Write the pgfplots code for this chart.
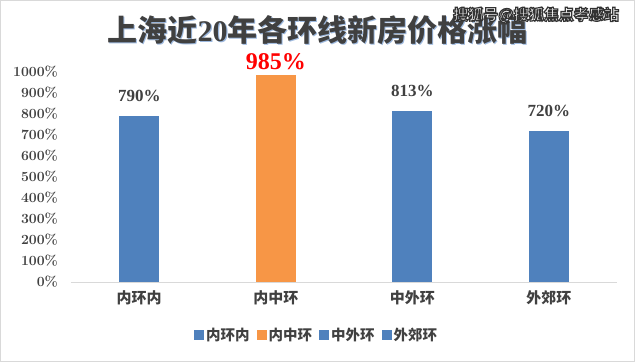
\documentclass[border=0pt]{standalone}
\usepackage{fontspec}
\usepackage{pgfplots}
\pgfplotsset{compat=1.18}
\newfontfamily\cjk{Noto Sans CJK SC}
\newfontfamily\tnr{Liberation Serif}
\definecolor{barblue}{HTML}{4F81BD}
\definecolor{barorange}{HTML}{F79646}
\definecolor{txt}{HTML}{404040}
\definecolor{gridc}{HTML}{D9D9D9}
\definecolor{shadowc}{HTML}{9DB9DF}
\newcommand{\titletext}{{\cjk\bfseries 上海近}{\tnr\bfseries 20}{\cjk\bfseries 年各环线新房价格涨幅}}
\newcommand{\wm}{{\cjk\bfseries 搜狐号@搜狐焦点孝感站}}
\begin{document}
\begin{tikzpicture}[x=1pt,y=1pt]
\fill[white] (0,0) rectangle (635,362);
\draw[gridc] (0.5,0.5) rectangle (634.5,361.5);
% title with shadow
\node[text=shadowc, font=\fontsize{30}{30}\selectfont, inner sep=0pt] at (318.8,330.8) {\titletext};
\node[text=txt, font=\fontsize{30}{30}\selectfont, inner sep=0pt] at (317.5,332) {\titletext};
% watermark (white text with dark outline via text render mode)
\node[text=white, font=\fontsize{15}{15}\selectfont, inner sep=0pt] at (536,347)
  {\special{pdf:literal direct 2 Tr 0.2 G 1.2 w}\wm\special{pdf:literal direct 0 Tr 0 G 1 w}};
\node[text=white, font=\fontsize{15}{15}\selectfont, inner sep=0pt, opacity=0] at (536,347) {};
\begin{axis}[
  at={(71pt,80pt)}, anchor=south west, scale only axis,
  width=546pt, height=210pt,
  xmin=-0.5, xmax=3.5, ymin=0, ymax=1000,
  ytick={0,100,200,300,400,500,600,700,800,900,1000},
  yticklabels={0\%,100\%,200\%,300\%,400\%,500\%,600\%,700\%,800\%,900\%,1000\%},
  xtick={0,1,2,3},
  xticklabels={内环内,内中环,中外环,外郊环},
  axis x line*=bottom, axis y line*=left,
  y axis line style={draw=none},
  x axis line style={draw=gridc, line width=0.8pt, -},
  major tick length=0pt,
  yticklabel style={font=\fontsize{14}{14}\selectfont\bfseries, text=txt, inner sep=0pt, anchor=east, xshift=-13pt},
  xticklabel style={font=\cjk\bfseries\fontsize{15}{15}\selectfont, text=txt, inner sep=0pt, anchor=north, yshift=-8pt},
  ybar, bar width=40pt, bar shift=0pt,
  clip=false,
  legend style={at={(0.45,-0.252)}, anchor=center, draw=none, fill=none,
    legend columns=4, font=\cjk\bfseries\fontsize{14.5}{14.5}\selectfont, text=txt,
    /tikz/every even column/.append style={column sep=5pt},
    /tikz/every odd column/.append style={column sep=0pt}},
]
\addplot[fill=barblue, draw=none,
  legend image code/.code={\fill[barblue] (0pt,-5pt) rectangle (10pt,5pt);},
  nodes near coords={790\%},
  every node near coord/.append style={font=\tnr\bfseries\fontsize{17}{17}\selectfont, text=txt, inner sep=0pt, anchor=south, yshift=14pt}]
  coordinates {(0,790)};
\addlegendentry{内环内}
\addplot[fill=barorange, draw=none,
  legend image code/.code={\fill[barorange] (0pt,-5pt) rectangle (10pt,5pt);},
  nodes near coords={985\%},
  every node near coord/.append style={font=\tnr\bfseries\fontsize{24}{24}\selectfont, text=red, inner sep=0pt, anchor=south, yshift=5pt}]
  coordinates {(1,985)};
\addlegendentry{内中环}
\addplot[fill=barblue, draw=none,
  legend image code/.code={\fill[barblue] (0pt,-5pt) rectangle (10pt,5pt);},
  nodes near coords={813\%},
  every node near coord/.append style={font=\tnr\bfseries\fontsize{17}{17}\selectfont, text=txt, inner sep=0pt, anchor=south, yshift=14pt}]
  coordinates {(2,813)};
\addlegendentry{中外环}
\addplot[fill=barblue, draw=none,
  legend image code/.code={\fill[barblue] (0pt,-5pt) rectangle (10pt,5pt);},
  nodes near coords={720\%},
  every node near coord/.append style={font=\tnr\bfseries\fontsize{17}{17}\selectfont, text=txt, inner sep=0pt, anchor=south, yshift=14pt}]
  coordinates {(3,720)};
\addlegendentry{外郊环}
\end{axis}
\end{tikzpicture}
\end{document}
